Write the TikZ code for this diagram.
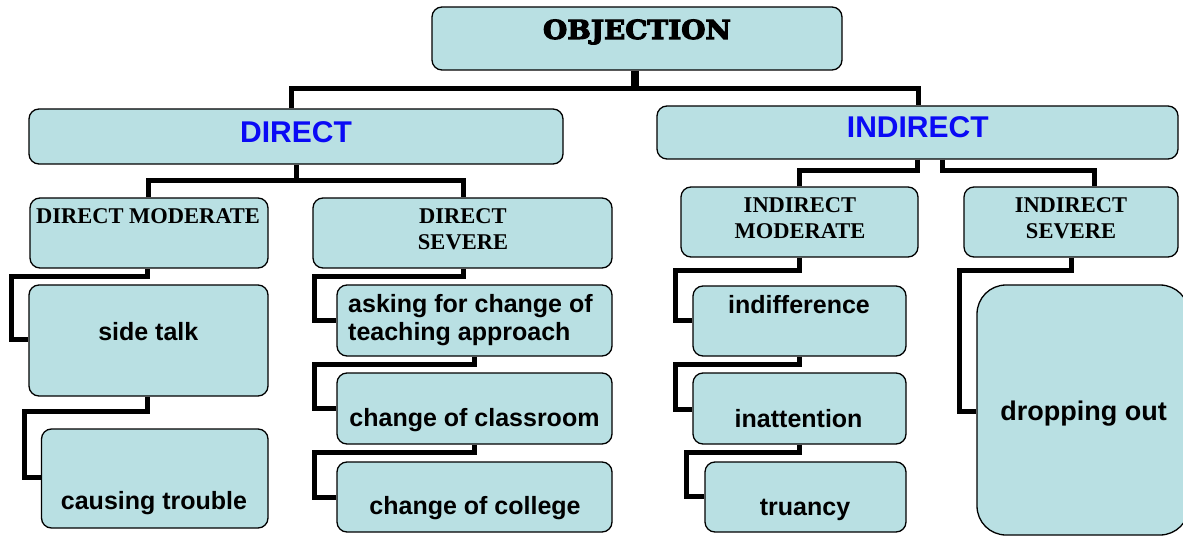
\documentclass[tikz,border=0pt]{standalone}
\usepackage{fontspec}
\newfontfamily\sansb{Liberation Sans}[BoldFont=* Bold]
\newfontfamily\serifb{Liberation Serif}[BoldFont=* Bold]
\newfontfamily\heavyserif{DejaVu Serif}[UprightFont=* Bold, FakeBold=4]
\definecolor{boxfill}{HTML}{B9E0E3}
\definecolor{headblue}{HTML}{0A0AF5}
\tikzset{
  box/.style={draw=black, line width=1.3pt, fill=boxfill, rounded corners=10pt, inner sep=0pt, rectangle},
  conn/.style={draw=black, line width=5pt, line join=miter},
  txt/.style={inner sep=0pt, anchor=base},
  leaf/.style={txt, font=\sansb\bfseries\fontsize{25}{28}\selectfont},
  mid/.style={txt, font=\serifb\bfseries\fontsize{22.5}{26}\selectfont},
  head/.style={txt, text=headblue, font=\sansb\bfseries\fontsize{30}{34}\selectfont}
}
\newcommand{\mybox}[6][]{\node[box,#1, minimum width={#4-#2}, minimum height={#5-#3}] (#6) at ({(#2+#4)/2},{(#3+#5)/2}) {};}
\begin{document}
\begin{tikzpicture}[x=1pt,y=-1pt]
\useasboundingbox (0,0) rectangle (1183,537);
\clip (0,0) rectangle (1183,537);
% boxes
\mybox{432}{7}{842}{70}{obj}
\mybox{29}{109}{563}{164}{dir}
\mybox{657}{106}{1178}{159}{ind}
\mybox{30}{198}{268}{268}{dm}
\mybox{313}{198}{612}{268}{ds}
\mybox{681}{187}{918}{257}{im}
\mybox{964}{187}{1178}{257}{is}
\mybox{29}{285}{268}{396}{st}
\mybox{41.5}{429}{268}{528}{ct}
\mybox{337}{285}{612}{356}{ask}
\mybox{337}{373}{612}{444}{cls}
\mybox{337}{462}{612}{532}{col}
\mybox{693}{286}{906}{356}{indf}
\mybox{693}{373}{906}{444}{inat}
\mybox{705}{462}{906}{532}{tru}
\mybox[rounded corners=29pt]{977}{285}{1189}{535}{drop}
% connectors
\draw[conn, line width=7.5pt] (obj.south -| 635,0) -- (635,88.4);
\draw[conn] (dir.north -| 291,0) |- (918,88.4) -- (ind.north -| 918,0);
\draw[conn] (dir.south) -- (296,181);
\draw[conn] (dm.north -| 148.5,0) |- (463.8,181) -- (ds.north -| 463.8,0);
\draw[conn] (ind.south) |- (799.6,171) -- (im.north -| 799.6,0);
\draw[conn] (ind.south -| 942,0) |- (1094,171) -- (is.north -| 1094,0);
\draw[conn] (dm.south -| 147,0) |- (11.7,276.5) |- (st.west |- 0,339);
\draw[conn] (st.south -| 147,0) |- (24,411.5) |- (ct.west |- 0,477.5);
\draw[conn] (ds.south -| 463,0) |- (314,276.5) |- (ask.west |- 0,320.5);
\draw[conn] (ask.south -| 474.7,0) |- (314,364) |- (cls.west |- 0,408.5);
\draw[conn] (cls.south -| 474.7,0) |- (314,452.5) |- (col.west |- 0,497.5);
\draw[conn] (im.south -| 799.7,0) |- (675,270.5) |- (indf.west |- 0,320.5);
\draw[conn] (indf.south -| 799.5,0) |- (675,364.5) |- (inat.west |- 0,409);
\draw[conn] (inat.south -| 799.5,0) |- (686.5,452.5) |- (tru.west |- 0,496.5);
\draw[conn] (is.south -| 1071.5,0) |- (959.5,271) |- (drop.west |- 0,411.5);
% texts
\node[txt, font=\heavyserif\fontsize{26}{30}\selectfont] (tobj) at (637,39) {\resizebox{188pt}{19.5pt}{OBJECTION}};
\node[head] (tdir) at (296,143) {DIRECT};
\node[head] (tind) at (917.8,138) {INDIRECT};
\node[mid] (tdm) at (148,224) {DIRECT MODERATE};
\node[mid] (tds1) at (463,224) {DIRECT};
\node[mid] (tds2) at (463,250) {SEVERE};
\node[mid] (tim1) at (800,213) {INDIRECT};
\node[mid] (tim2) at (800,239) {MODERATE};
\node[mid] (tis1) at (1071,213) {INDIRECT};
\node[mid] (tis2) at (1071,239) {SEVERE};
\node[leaf] (tst) at (148.3,340.7) {side talk};
\node[leaf] (tct) at (154,509) {causing trouble};
\node[leaf, anchor=base west] (task1) at (348,312.3) {asking for change of};
\node[leaf, anchor=base west] (task2) at (348,340) {teaching approach};
\node[leaf] (tcls) at (474.5,426.7) {change of classroom};
\node[leaf] (tcol) at (475,514) {change of college};
\node[leaf] (tindf) at (799,313.3) {indifference};
\node[leaf] (tinat) at (798.6,427.7) {inattention};
\node[leaf] (ttru) at (805,515) {truancy};
\node[leaf, font=\sansb\bfseries\fontsize{27}{30}\selectfont] (tdrop) at (1083.5,420) {dropping out};
\end{tikzpicture}
\end{document}
